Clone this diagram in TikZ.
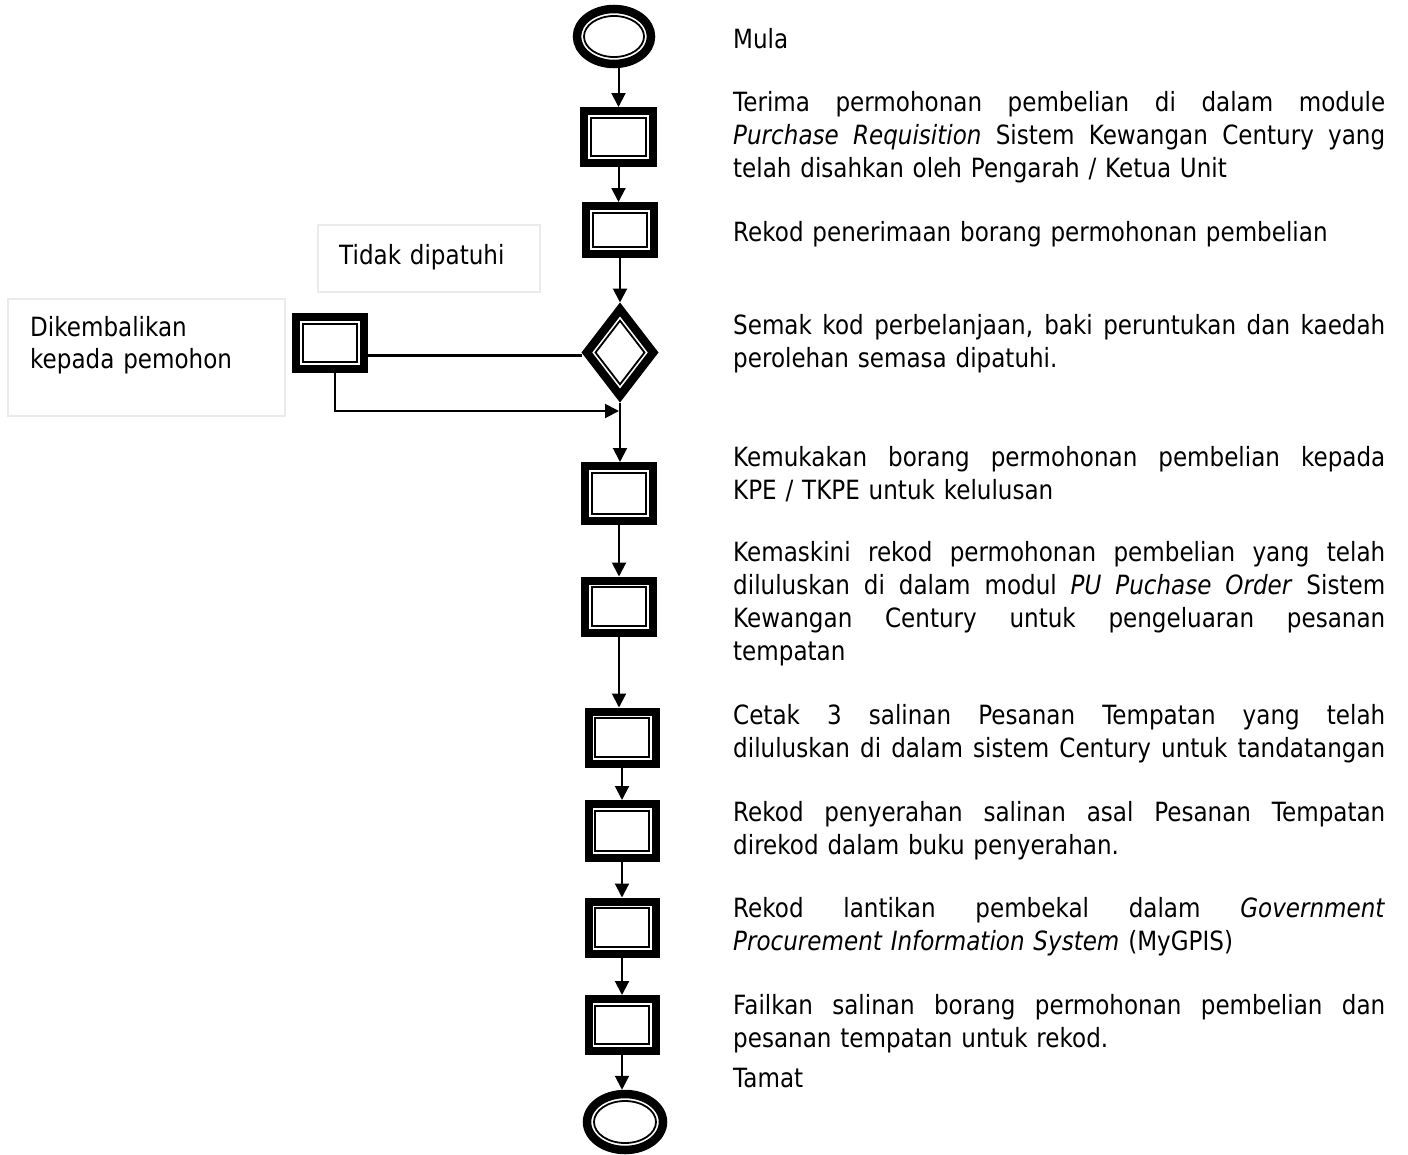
\documentclass[tikz,border=0pt]{standalone}
\usepackage{fontspec}
\setmainfont{DejaVu Sans}[FakeStretch=0.87]
\usetikzlibrary{arrows.meta,shapes.geometric,calc}
\newcommand\jline[1]{\leavevmode\hbox to 652pt{\spaceskip=0.3em plus 1fil\relax #1}}
\hbadness=10000
\begin{document}
\begin{tikzpicture}[x=1pt,y=-1pt,
  every node/.style={inner sep=0pt},
  txt/.style={font=\fontsize{26.5}{33}\selectfont, align=left, text width=660pt, anchor=base west},
  gbox/.style={draw=black!8, line width=1.5pt, rectangle, anchor=north west, outer sep=0pt},
  pbox/.style={rectangle, draw, line width=8pt, minimum width=68pt, minimum height=52pt},
  pell/.style={ellipse, draw, line width=8.5pt, minimum width=74pt, minimum height=55pt},
  thin/.style={line width=1.8pt},
  conn/.style={line width=2pt},
  arr/.style={conn, -{Triangle[width=14pt,length=14pt]}}]
\useasboundingbox (0,0) rectangle (1408,1154);

% text frames
\node[gbox, minimum width=222pt, minimum height=67pt] (tidakbox) at (318,225) {};
\node[txt] (tidak) at (339,264) {Tidak dipatuhi};
\node[gbox, minimum width=277pt, minimum height=117pt] (balikbox) at (8,299) {};
\node[txt, text width=250pt, font=\fontsize{26.5}{32}\selectfont] (balik) at (30,336) {Dikembalikan\\kepada pemohon};

% main shapes
\node[pell] (s) at (614,36.5) {};
\node[pbox, minimum width=69pt] (b1) at (618.5,137) {};
\node[pbox, minimum height=48pt] (b2) at (620,230) {};
\node[rectangle, minimum width=77pt, minimum height=100pt, outer sep=0pt] (d) at (620,352.5) {};
\node[pbox, minimum height=55pt] (b3) at (619,493.5) {};
\node[pbox] (b4) at (619,606.5) {};
\node[pbox, minimum width=67pt] (b5) at (622,737.5) {};
\node[pbox, minimum width=67pt, minimum height=54pt] (b6) at (622,831) {};
\node[pbox, minimum width=67pt] (b7) at (622,927.5) {};
\node[pbox, minimum width=67pt, minimum height=52pt] (b8) at (622,1025) {};
\node[pell, minimum width=76pt, minimum height=56pt] (e) at (625,1122) {};
\node[pbox, minimum width=68pt, minimum height=52pt] (lb) at (330,343) {};

% inner thin outlines
\foreach \n in {b1,b2,b3,b4,b5,b6,b7,b8,lb}
  \draw[thin] ([shift={(10.75,10.75)}]\n.north west) rectangle ([shift={(-10.75,-10.75)}]\n.south east);
\draw[thin] (s.center) ellipse [x radius=30pt, y radius=20.5pt];
\draw[thin] (e.center) ellipse [x radius=31pt, y radius=21pt];
% diamond
\fill[black] (d.north) -- (d.east) -- (d.south) -- (d.west) -- cycle;
\fill[white] ($(d.north)+(0,14)$) -- ($(d.east)+(-10.8,0)$) -- ($(d.south)+(0,-14)$) -- ($(d.west)+(10.8,0)$) -- cycle;
\draw[thin] ($(d.north)+(0,18.2)$) -- ($(d.east)+(-14,0)$) -- ($(d.south)+(0,-18.2)$) -- ($(d.west)+(14,0)$) -- cycle;

% connectors
\draw[arr] (s.south -| b1) -- (b1.north);
\draw[arr] (b1.south) -- (b1.south |- b2.north);
\draw[arr] (b2.south) -- (d.north);
\draw[arr] (d.south) -- (d.south |- b3.north);
\draw[arr] (b3.south) -- (b4.north);
\draw[arr] (b4.south) -- (b4.south |- b5.north);
\draw[arr] (b5.south) -- (b6.north);
\draw[arr] (b6.south) -- (b7.north);
\draw[arr] (b7.south) -- (b8.north);
\draw[arr] (b8.south) -- (b8.south |- e.north);
\draw[line width=3pt] ([yshift=-2.5pt]d.west) -- ([yshift=-2.5pt]d.west -| lb.east);
\coordinate (j) at (619,411);
\draw[arr] ([xshift=5pt]lb.south) |- (j);

% descriptions
\node[txt] (t1) at (733,48) {Mula};
\node[txt] (t2) at (733,111) {\jline{Terima permohonan pembelian di dalam module}\\
  \jline{\textit{Purchase Requisition} Sistem Kewangan Century yang}\\
  telah disahkan oleh Pengarah / Ketua Unit};
\node[txt] (t3) at (733,241) {Rekod penerimaan borang permohonan pembelian};
\node[txt] (t4) at (733,334) {\jline{Semak kod perbelanjaan, baki peruntukan dan kaedah}\\
  perolehan semasa dipatuhi.};
\node[txt] (t5) at (733,466) {\jline{Kemukakan borang permohonan pembelian kepada}\\
  KPE / TKPE untuk kelulusan};
\node[txt] (t6) at (733,561) {\jline{Kemaskini rekod permohonan pembelian yang telah}\\
  \jline{diluluskan di dalam modul \textit{PU Puchase Order} Sistem}\\
  \jline{Kewangan Century untuk pengeluaran pesanan}\\
  tempatan};
\node[txt] (t7) at (733,724) {\jline{Cetak 3 salinan Pesanan Tempatan yang telah}\\
  \jline{diluluskan di dalam sistem Century untuk tandatangan}};
\node[txt] (t8) at (733,821) {\jline{Rekod penyerahan salinan asal Pesanan Tempatan}\\
  direkod dalam buku penyerahan.};
\node[txt] (t9) at (733,917) {\jline{Rekod lantikan pembekal dalam \textit{Government}}\\
  \textit{Procurement Information System} (MyGPIS)};
\node[txt] (t10) at (733,1014) {\jline{Failkan salinan borang permohonan pembelian dan}\\
  pesanan tempatan untuk rekod.};
\node[txt] (t11) at (733,1087) {Tamat};
\end{tikzpicture}
\end{document}
